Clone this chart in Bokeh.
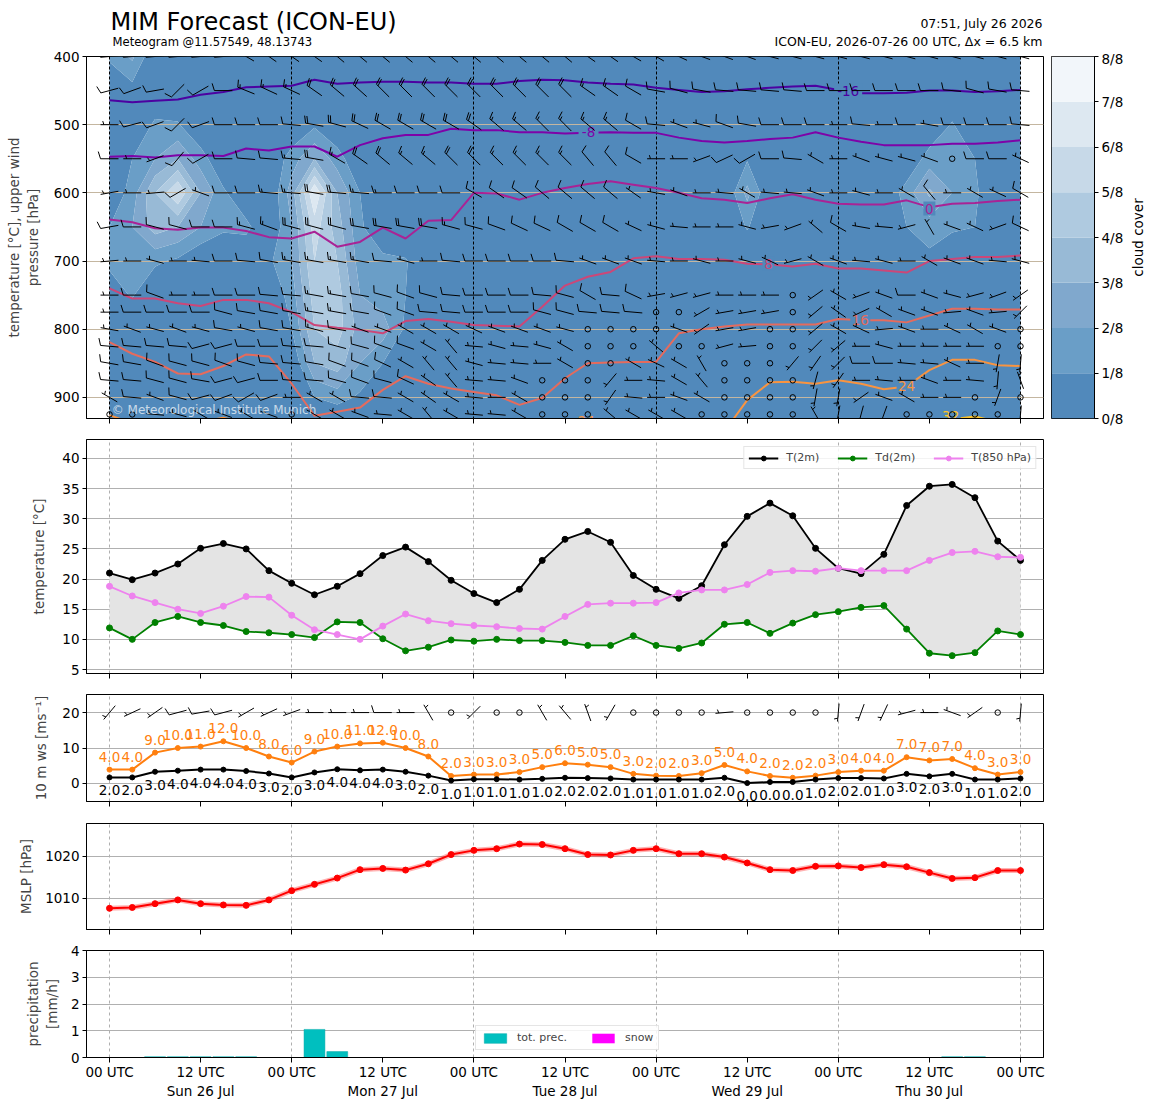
import math
import numpy as np
from bokeh.plotting import figure
from bokeh.layouts import column, row
from bokeh.models import Range1d, FixedTicker, Legend, LegendItem
from bokeh.core.properties import value
from bokeh.embed import file_html
from bokeh.resources import INLINE

FONT = "DejaVu Sans"
TFS = "13.5px"

# ---------------- data ----------------
hours = list(range(0, 121, 3))          # forecast hours from 2026-07-26 00 UTC
tick_hours = list(range(0, 121, 12))
day_hours = list(range(0, 121, 24))
day_names = ["Sun 26 Jul", "Mon 27 Jul", "Tue 28 Jul", "Wed 29 Jul", "Thu 30 Jul"]

t2m = [21.0, 19.9, 21.0, 22.5, 25.1, 25.9, 25.0, 21.4, 19.3, 17.4, 18.8, 20.9, 23.9, 25.3, 22.9, 19.8, 17.6, 16.1, 18.3, 23.1, 26.6,
       27.9, 26.1, 20.6, 18.3, 16.8, 18.9, 25.7, 30.4, 32.6, 30.5, 25.1, 21.8, 20.9, 24.1, 32.2, 35.4, 35.7, 33.5, 26.3, 23.1]
td2m = [11.9, 10.0, 12.8, 13.8, 12.8, 12.3, 11.3, 11.1, 10.8, 10.3, 12.9, 12.8, 10.1, 8.1, 8.7, 9.9, 9.7, 10.0, 9.8, 9.8, 9.5,
        9.0, 9.0, 10.6, 9.0, 8.5, 9.4, 12.5, 12.8, 11.0, 12.7, 14.1, 14.6, 15.3, 15.6, 11.7, 7.7, 7.3, 7.8, 11.4, 10.8]
t850 = [18.8, 17.2, 16.1, 15.0, 14.3, 15.5, 17.1, 17.0, 14.0, 11.6, 10.8, 10.0, 12.2, 14.2, 13.1, 12.6, 12.3, 12.1, 11.8, 11.7, 13.8,
        15.8, 16.0, 16.0, 16.1, 17.7, 18.2, 18.2, 19.1, 21.1, 21.4, 21.3, 21.8, 21.4, 21.4, 21.4, 23.1, 24.4, 24.6, 23.7, 23.6]

ws10 = [1.7, 1.7, 3.3, 3.6, 3.9, 3.9, 3.5, 2.8, 1.7, 3.1, 4.0, 3.7, 3.9, 3.3, 2.2, 0.8, 1.2, 1.2, 1.1, 1.3, 1.6,
        1.5, 1.4, 1.1, 1.1, 1.1, 1.1, 1.6, 0.1, 0.4, 0.4, 1.1, 1.5, 1.5, 1.4, 2.7, 2.0, 2.7, 1.1, 1.1, 1.4]
ws10_labels = [2, 2, 3, 4, 4, 4, 4, 3, 2, 3, 4, 4, 4, 3, 2, 1, 1, 1, 1, 1, 2,
               2, 2, 1, 1, 1, 1, 2, 0, 0, 0, 1, 2, 2, 1, 3, 2, 3, 1, 1, 2]
gust = [3.9, 3.9, 8.7, 10.0, 10.4, 11.9, 10.0, 7.6, 5.9, 9.0, 10.4, 11.3, 11.5, 10.0, 7.6, 2.1, 2.5, 2.5, 3.2, 4.6, 5.7,
        5.3, 4.6, 2.7, 2.2, 2.1, 2.9, 5.2, 3.4, 2.1, 1.6, 2.2, 3.2, 3.6, 3.6, 7.4, 6.5, 6.9, 4.3, 2.5, 3.2]
gust_labels = [4, 4, 9, 10, 11, 12, 10, 8, 6, 9, 10, 11, 12, 10, 8, 2, 3, 3, 3, 5, 6,
               5, 5, 3, 2, 2, 3, 5, 4, 2, 2, 2, 3, 4, 4, 7, 7, 7, 4, 3, 3]
dir10 = [220, 245, 235, 255, 260, 255, 240, 245, 250, 270, 270, 270, 270, 270, 330, 0, 225, 0, 0, 330,
         320, 340, 210, 0, 0, 0, 0, 265, 0, 0, 0, 0, 185, 200, 205, 255, 270, 290, 235, 0, 185]
spd10 = [5, 5, 5, 10, 10, 10, 5, 5, 5, 5, 5, 5, 10, 5, 5, 0, 5, 0, 0, 5,
         5, 5, 5, 0, 0, 0, 0, 5, 0, 0, 0, 0, 5, 5, 5, 5, 5, 5, 5, 0, 5]

mslp = [1007.6, 1007.8, 1008.7, 1009.6, 1008.7, 1008.4, 1008.3, 1009.6, 1011.8, 1013.3, 1014.8, 1016.8, 1017.1, 1016.7,
        1018.2, 1020.4, 1021.4, 1021.8, 1022.9, 1022.8, 1021.8, 1020.4, 1020.3, 1021.4, 1021.8, 1020.6, 1020.6, 1019.8,
        1018.4, 1016.8, 1016.6, 1017.6, 1017.7, 1017.3, 1018.0, 1017.5, 1016.1, 1014.7, 1014.9, 1016.6, 1016.6]

precip = [0, 0, 0.03, 0.03, 0.03, 0.03, 0.03, 0, 0, 1.05, 0.22, 0, 0, 0, 0, 0, 0, 0, 0, 0, 0,
          0, 0, 0, 0, 0, 0, 0, 0, 0, 0, 0, 0, 0, 0, 0, 0, 0.03, 0.03, 0, 0]
snow = [0] * 41

# isotherm pressures [hPa] per time step
iso_levels = [-16, -8, 0, 8, 16, 24, 32]
iso_colors = ["#4c02a1", "#7e03a8", "#a92395", "#cc4778", "#e56b5d", "#f89441", "#fdc328"]
iso_m16 = [464, 467, 465, 463, 456, 452, 445, 444, 443, 434, 440, 438, 437, 437, 438, 438, 440, 440, 436, 434, 435,
           438, 440, 441, 446, 449, 452, 451, 448, 446, 444, 443, 449, 454, 454, 453, 450, 450, 452, 451, 449]
iso_m8 = [547, 546, 548, 545, 545, 546, 535, 538, 532, 532, 547, 530, 520, 515, 515, 506, 508, 508, 511, 511, 513,
          512, 511, 512, 512, 519, 524, 526, 524, 521, 519, 511, 519, 525, 530, 530, 530, 528, 528, 526, 523]
iso_0 = [639, 643, 652, 654, 651, 651, 656, 665, 667, 657, 679, 672, 651, 667, 641, 640, 600, 601, 610, 600, 593,
         587, 583, 588, 593, 600, 608, 610, 615, 608, 602, 610, 616, 617, 617, 611, 621, 616, 615, 612, 610]
iso_8 = [740, 755, 755, 762, 766, 757, 757, 762, 775, 794, 798, 801, 806, 788, 785, 789, 794, 795, 796, 767, 736,
         723, 716, 696, 693, 697, 697, 698, 704, 705, 708, 704, 711, 711, 714, 717, 700, 697, 694, 694, 692]
iso_16 = [819, 836, 848, 865, 866, 854, 837, 840, 880, 927, 921, 915, 889, 869, 880, 887, 892, 897, 911, 901, 872,
          850, 849, 848, 848, 806, 800, 796, 793, 793, 793, 793, 785, 787, 787, 790, 780, 770, 770, 771, 771]
iso_24 = [926, 938, 945, 942, 936, 930, 938, 945, 950, 955, 960, 960, 958, 955, 952, 950, 948, 946, 944, 940, 937,
          935, 940, 945, 948, 950, 950, 950, 904, 878, 877, 880, 875, 880, 888, 884, 860, 845, 845, 853, 854]
iso_32 = [960, 960, 960, 960, 960, 960, 960, 960, 960, 960, 960, 960, 960, 960, 960, 960, 960, 960, 960, 960, 960,
          960, 960, 960, 960, 960, 960, 960, 960, 960, 960, 960, 960, 960, 960, 960, 945, 932, 928, 936, 945]
iso_lines = [iso_m16, iso_m8, iso_0, iso_8, iso_16, iso_24, iso_32]
iso_label_text = ["-16", "-8", "0", "8", "16", "24", "32", "24"]
iso_label_hour = [97.3, 63.1, 108.0, 86.8, 98.9, 105.0, 110.8, 62.8]
iso_label_p = [450, 511, 623, 704, 787, 884, 928, 934]
iso_label_color = ["#4c02a1", "#7e03a8", "#a92395", "#cc4778", "#e56b5d", "#f89441", "#fdc328", "#f89441"]

# cloud cover [octas] on pressure levels (sparse: time index -> value)
cc_levels = [400, 450, 500, 550, 600, 650, 700, 750, 800, 850, 900, 931]
cc_400 = {0: 1.2, 1: 2.2}
cc_450 = {1: 0.6}
cc_500 = {2: 1.2, 3: 1.1, 9: 0.8, 37: 1.1}
cc_550 = {1: 1.0, 2: 2.0, 3: 3.0, 4: 1.5, 8: 1.5, 9: 3.0, 10: 1.5, 28: 0.9, 36: 1.5, 37: 1.6, 38: 1.0}
cc_600 = {1: 1.5, 2: 4.0, 3: 6.0, 4: 3.0, 5: 1.2, 8: 2.5, 9: 7.0, 10: 3.0, 11: 1.0, 28: 2.3, 35: 1.5, 36: 3.2, 37: 2.0, 38: 1.2}
cc_650 = {0: 1.0, 1: 2.0, 2: 3.5, 3: 3.0, 4: 2.0, 5: 1.2, 6: 1.3, 8: 2.0, 9: 5.5, 10: 3.5, 11: 1.2, 28: 1.1, 35: 1.0, 36: 1.5, 37: 1.2, 38: 1.0}
cc_700 = {0: 1.2, 1: 1.5, 2: 1.2, 3: 0.8, 7: 0.8, 8: 2.0, 9: 5.0, 10: 4.0, 11: 1.5, 12: 1.3, 13: 1.1, 36: 0.7}
cc_750 = {0: 0.5, 1: 1.1, 8: 1.5, 9: 4.5, 10: 4.5, 11: 2.0, 12: 1.5, 13: 1.0}
cc_800 = {8: 1.0, 9: 4.0, 10: 4.5, 11: 2.5, 12: 2.5, 13: 0.8}
cc_850 = {9: 3.0, 10: 3.5, 11: 2.0, 12: 1.0}
cc_900 = {9: 1.0, 10: 1.5, 11: 0.8}
cc_931 = {}
cc_rows = [cc_400, cc_450, cc_500, cc_550, cc_600, cc_650, cc_700, cc_750, cc_800, cc_850, cc_900, cc_931]
cc_colors = ["#5189bb", "#6a9ec7", "#80a8cd", "#98bad6", "#afcae0", "#c7d9e8", "#dde8f1", "#f2f6fa"]
cc_ticks = [0, 1, 2, 3, 4, 5, 6, 7, 8]

# upper winds: direction [deg] and speed [kt] per level
barb_levels = [400, 450, 500, 550, 600, 650, 700, 750, 775, 800, 825, 850, 875, 900, 925]
dir_400 = [265, 265, 265, 265, 265, 265, 300, 305, 305, 305, 310, 310, 310, 310, 310, 310, 310, 310, 310, 310, 310,
           305, 305, 300, 300, 295, 290, 290, 290, 285, 285, 285, 285, 285, 285, 285, 285, 285, 285, 285, 285]
spd_400 = [10, 10, 10, 10, 10, 10, 15, 15, 15, 20, 20, 20, 20, 20, 20, 20, 20, 20, 20, 20, 20,
           15, 15, 15, 10, 10, 10, 10, 10, 10, 10, 10, 10, 10, 10, 10, 10, 10, 10, 10, 10]
dir_450 = [255, 250, 260, 225, 240, 270, 292, 295, 295, 305, 310, 312, 315, 315, 315, 315, 315, 315, 315, 315, 315,
           305, 305, 300, 280, 285, 280, 275, 275, 275, 275, 270, 270, 270, 270, 270, 270, 275, 285, 280, 275]
spd_450 = [10, 10, 10, 10, 10, 10, 15, 15, 15, 20, 20, 20, 20, 20, 20, 20, 20, 20, 20, 20, 20,
           15, 15, 10, 10, 10, 10, 10, 10, 10, 10, 10, 10, 10, 10, 10, 10, 10, 10, 10, 10]
dir_500 = [270, 255, 250, 225, 250, 270, 270, 270, 275, 280, 285, 295, 300, 300, 300, 300, 305, 310, 310, 315, 315,
           310, 310, 300, 275, 290, 285, 290, 280, 270, 270, 270, 270, 275, 270, 270, 280, 270, 270, 270, 275]
spd_500 = [5, 10, 10, 10, 10, 10, 10, 10, 10, 20, 20, 20, 20, 20, 20, 20, 20, 15, 15, 15, 15,
           15, 15, 10, 10, 5, 5, 10, 10, 10, 10, 10, 5, 10, 5, 10, 5, 10, 10, 10, 10]
dir_550 = [270, 270, 250, 220, 240, 270, 275, 275, 275, 280, 300, 305, 310, 310, 310, 315, 315, 315, 315, 315, 315,
           320, 320, 300, 270, 270, 250, 245, 240, 270, 275, 300, 270, 290, 285, 285, 290, 0, 270, 270, 295]
spd_550 = [10, 5, 5, 10, 10, 10, 10, 10, 15, 20, 15, 20, 20, 15, 15, 20, 20, 15, 15, 15, 15,
           10, 10, 10, 5, 5, 5, 10, 10, 10, 10, 5, 5, 5, 5, 5, 5, 0, 10, 10, 5]
dir_600 = [260, 270, 265, 240, 290, 270, 270, 275, 275, 280, 275, 275, 270, 270, 270, 270, 300, 305, 305, 310, 310,
           310, 310, 305, 280, 290, 270, 275, 300, 275, 275, 290, 270, 285, 270, 300, 320, 270, 300, 295, 300]
spd_600 = [5, 5, 5, 10, 5, 10, 10, 15, 15, 20, 20, 15, 15, 10, 10, 10, 10, 10, 10, 10, 10,
           10, 10, 5, 5, 5, 5, 5, 5, 5, 5, 5, 5, 5, 5, 5, 10, 5, 5, 5, 10]
dir_650 = [260, 270, 285, 285, 270, 270, 285, 290, 285, 285, 285, 280, 280, 280, 280, 285, 285, 290, 295, 295, 300,
           300, 300, 295, 285, 275, 270, 270, 285, 260, 250, 310, 300, 280, 275, 255, 330, 290, 295, 250, 295]
spd_650 = [10, 10, 10, 10, 10, 10, 15, 15, 20, 20, 20, 20, 20, 20, 20, 15, 10, 10, 10, 10, 10,
           10, 10, 5, 5, 5, 5, 5, 5, 5, 5, 5, 10, 5, 5, 5, 5, 5, 5, 5, 10]
dir_700 = [265, 270, 285, 270, 275, 270, 275, 280, 280, 280, 280, 280, 275, 285, 270, 275, 270, 270, 270, 270, 275,
           290, 290, 290, 275, 270, 285, 270, 285, 295, 255, 300, 290, 275, 285, 270, 300, 290, 290, 275, 285]
spd_700 = [5, 5, 5, 5, 5, 10, 10, 10, 15, 15, 15, 15, 10, 5, 5, 10, 10, 10, 10, 10, 10,
           5, 5, 5, 5, 5, 5, 5, 5, 5, 5, 5, 5, 5, 5, 5, 5, 5, 5, 5, 5]
dir_750 = [270, 270, 290, 270, 270, 270, 270, 275, 275, 280, 280, 280, 285, 290, 285, 275, 270, 270, 270, 275, 285,
           300, 275, 295, 260, 255, 255, 270, 270, 270, 0, 235, 300, 250, 290, 270, 290, 285, 255, 250, 235]
spd_750 = [5, 10, 10, 5, 5, 10, 10, 10, 10, 15, 15, 10, 10, 10, 10, 10, 10, 10, 10, 10, 10,
           10, 10, 10, 5, 5, 5, 5, 5, 5, 0, 5, 5, 5, 5, 10, 5, 5, 5, 5, 5]
dir_775 = [270, 270, 270, 270, 270, 285, 280, 280, 280, 280, 280, 280, 290, 290, 275, 275, 270, 270, 270, 285, 285,
           275, 275, 275, 0, 0, 240, 260, 260, 260, 0, 230, 305, 245, 300, 290, 290, 265, 290, 265, 225]
spd_775 = [5, 10, 10, 10, 10, 10, 10, 10, 10, 15, 15, 10, 10, 10, 10, 10, 10, 10, 10, 10, 10,
           10, 10, 10, 0, 0, 5, 5, 5, 5, 0, 5, 5, 5, 5, 5, 5, 5, 5, 5, 5]
dir_800 = [280, 290, 285, 290, 285, 280, 285, 280, 280, 285, 280, 290, 290, 300, 300, 300, 295, 290, 290, 290, 285,
           0, 0, 0, 0, 290, 235, 260, 260, 0, 0, 230, 300, 295, 265, 290, 270, 295, 300, 290, 0]
spd_800 = [5, 5, 5, 5, 5, 10, 5, 10, 10, 15, 10, 5, 5, 5, 5, 5, 5, 5, 5, 5, 5,
           0, 0, 0, 0, 5, 5, 5, 5, 0, 0, 5, 5, 5, 5, 5, 5, 5, 5, 5, 0]
dir_825 = [275, 275, 275, 275, 255, 255, 270, 270, 275, 275, 285, 285, 290, 290, 300, 320, 275, 285, 275, 285, 300,
           0, 0, 0, 310, 0, 0, 255, 265, 0, 0, 225, 230, 270, 285, 270, 270, 270, 270, 0, 0]
spd_825 = [10, 10, 10, 10, 10, 10, 10, 10, 10, 10, 10, 10, 10, 10, 5, 5, 5, 5, 5, 5, 5,
           0, 0, 0, 5, 0, 0, 5, 5, 0, 0, 5, 5, 5, 5, 5, 5, 5, 5, 0, 0]
dir_850 = [280, 280, 290, 285, 285, 290, 285, 275, 275, 280, 290, 290, 295, 300, 320, 320, 285, 275, 275, 270, 300,
           0, 0, 300, 295, 300, 330, 0, 0, 0, 220, 215, 225, 270, 270, 275, 275, 295, 270, 190, 185]
spd_850 = [10, 10, 10, 10, 10, 10, 10, 10, 10, 10, 10, 10, 10, 5, 5, 5, 5, 5, 5, 5, 5,
           0, 0, 5, 5, 5, 5, 0, 0, 0, 5, 5, 5, 10, 10, 5, 5, 5, 5, 5, 5]
dir_875 = [275, 275, 285, 285, 280, 255, 255, 270, 275, 275, 285, 290, 285, 295, 305, 320, 275, 275, 290, 0, 0,
           0, 220, 270, 275, 300, 320, 0, 0, 0, 0, 195, 215, 270, 275, 270, 290, 270, 275, 185, 340]
spd_875 = [10, 10, 10, 10, 10, 10, 10, 10, 10, 10, 10, 10, 10, 10, 5, 5, 5, 5, 5, 0, 0,
           0, 5, 5, 5, 5, 5, 0, 0, 0, 0, 5, 5, 5, 5, 5, 5, 5, 5, 5, 5]
dir_900 = [300, 275, 290, 285, 255, 250, 240, 250, 270, 300, 300, 275, 275, 300, 305, 300, 275, 270, 300, 0, 0,
           0, 215, 275, 270, 290, 300, 0, 0, 0, 0, 190, 190, 235, 290, 300, 270, 270, 0, 200, 0]
spd_900 = [5, 10, 5, 10, 10, 10, 10, 10, 5, 5, 5, 10, 10, 5, 5, 5, 5, 5, 5, 0, 0,
           0, 5, 5, 5, 5, 5, 0, 0, 0, 0, 5, 5, 5, 5, 5, 5, 5, 0, 5, 0]
dir_925 = [0, 0, 275, 285, 300, 290, 300, 290, 0, 300, 300, 290, 275, 300, 320, 300, 275, 275, 300, 0, 0,
           0, 310, 300, 300, 300, 0, 0, 0, 0, 0, 330, 190, 195, 200, 0, 0, 0, 0, 0, 185]
spd_925 = [0, 0, 5, 5, 5, 5, 5, 5, 0, 5, 5, 5, 5, 5, 5, 5, 5, 5, 5, 0, 0,
           0, 5, 5, 5, 5, 0, 0, 0, 0, 0, 5, 5, 5, 5, 0, 0, 0, 0, 0, 5]
barb_dirs = [dir_400, dir_450, dir_500, dir_550, dir_600, dir_650, dir_700, dir_750, dir_775, dir_800, dir_825,
             dir_850, dir_875, dir_900, dir_925]
barb_spds = [spd_400, spd_450, spd_500, spd_550, spd_600, spd_650, spd_700, spd_750, spd_775, spd_800, spd_825,
             spd_850, spd_875, spd_900, spd_925]

# ---------------- layout constants ----------------
FW = 957
LB = 86           # left border incl. page offset
X0, X1 = -3.03, 123.03
P_TOP, P_BOT = 400.0, 931.0
H0, H1, H2, H3, H4, H5 = 50, 362, 234, 107, 106, 107
T_LO, T_HI = 4.34, 43.15
W_LO, W_HI = -5.1, 25.1
M_LO, M_HI = 1002.55, 1027.8
XR = Range1d(X0, X1)
BARB_L = 18.0


def barb_geometry(xs0, ys0, dirs, spds, kx, ky, L=BARB_L):
    """Matplotlib-style wind barbs (pivot middle); kx, ky = data units per screen px."""
    sx, sy, cx, cy = [], [], [], []
    sp, bh, fw = 0.125 * L, 0.4 * L, 0.25 * L
    for x0, y0, d, s in zip(xs0, ys0, dirs, spds):
        n5 = int(round(s / 5.0))
        if n5 == 0:
            cx.append(x0)
            cy.append(y0)
            continue
        th = math.radians(d)
        ux, uy = math.sin(th), math.cos(th)
        bx, by = uy, -ux

        def P(a, b):
            return (x0 + (a * ux + b * bx) * kx, y0 + (a * uy + b * by) * ky)

        a0, a1 = P(-L / 2, 0), P(L / 2, 0)
        sx.append([a0[0], a1[0]])
        sy.append([a0[1], a1[1]])
        nfull, half = divmod(n5, 2)
        off = L
        for _ in range(nfull):
            b0, b1 = P(-L / 2 + off, 0), P(-L / 2 + off + fw / 2, bh)
            sx.append([b0[0], b1[0]])
            sy.append([b0[1], b1[1]])
            off -= sp
        if half:
            if nfull == 0:
                off -= 1.5 * sp
            b0, b1 = P(-L / 2 + off, 0), P(-L / 2 + off + fw / 4, bh / 2)
            sx.append([b0[0], b1[0]])
            sy.append([b0[1], b1[1]])
    return sx, sy, cx, cy


def make_fig(fh, yr, top=0, bottom=21, xlabels=False, vcolor="#9a9a9a", vdash="3 3", ylabel="", yticks=None,
             label_standoff=11):
    p = figure(frame_width=FW, frame_height=fh, x_range=XR, y_range=yr, output_backend="svg",
               toolbar_location=None, min_border_left=LB, min_border_right=8, min_border_top=top,
               min_border_bottom=bottom, background_fill_color="white", border_fill_color="white")
    p.outline_line_color = "black"
    p.outline_line_width = 1
    for ax in p.axis:
        ax.major_label_text_font = FONT
        ax.major_label_text_font_size = TFS
        ax.major_label_text_color = "black"
        ax.axis_label_text_font = FONT
        ax.axis_label_text_font_style = "normal"
        ax.axis_label_text_font_size = TFS
        ax.minor_tick_line_color = None
        ax.major_tick_in = 0
        ax.axis_line_color = "black"
        ax.major_tick_line_color = "black"
    p.xaxis.ticker = FixedTicker(ticks=tick_hours)
    p.xaxis.major_tick_out = 5
    if xlabels:
        p.xaxis.major_label_standoff = 1
        ov = {}
        for t in tick_hours:
            ov[t] = "00 UTC" if t % 24 == 0 else "12 UTC\n" + day_names[t // 24]
        p.xaxis.major_label_overrides = ov
    else:
        p.xaxis.major_label_text_font_size = "0px"
        p.xaxis.major_label_text_color = None
        p.xaxis.major_label_standoff = 0
    p.yaxis.ticker = FixedTicker(ticks=yticks)
    p.yaxis.major_tick_out = 4
    p.yaxis.major_label_standoff = 3
    p.yaxis.axis_label = ylabel
    p.yaxis.axis_label_standoff = label_standoff
    p.ygrid.grid_line_color = "#b0b0b0"
    p.ygrid.grid_line_width = 1
    p.xgrid.ticker = FixedTicker(ticks=day_hours)
    p.xgrid.grid_line_color = vcolor
    p.xgrid.grid_line_dash = vdash
    p.xgrid.grid_line_width = 0.8
    return p


# ---------------- title area (coordinates = page pixels) ----------------
p0 = figure(frame_width=FW, frame_height=H0, x_range=Range1d(LB, LB + FW), y_range=Range1d(H0, 0),
            output_backend="svg", toolbar_location=None, min_border_left=LB, min_border_right=8,
            min_border_top=0, min_border_bottom=0, x_axis_location=None, y_axis_location=None)
p0.outline_line_color = None
p0.xgrid.visible = False
p0.ygrid.visible = False
p0.text(x=[110], y=[21], text=["MIM Forecast (ICON-EU)"], text_font=value(FONT), text_font_size="24px",
        text_baseline="middle", text_align="left", text_color="black")
p0.text(x=[112], y=[41.5], text=["Meteogram @11.57549, 48.13743"], text_font=value(FONT), text_font_size="11.6px",
        text_baseline="middle", text_align="left", text_color="black")
p0.text(x=[1042], y=[23], text=["07:51, July 26 2026"], text_font=value(FONT), text_font_size="12.5px",
        text_baseline="middle", text_align="right", text_color="black")
p0.text(x=[1042], y=[41], text=["ICON-EU, 2026-07-26 00 UTC, \u0394x = 6.5 km"], text_font=value(FONT),
        text_font_size="12.5px", text_baseline="middle", text_align="right", text_color="black")

# ---------------- panel 1: upper air ----------------
p1 = make_fig(H1, Range1d(P_BOT, P_TOP), top=6, vcolor="black", vdash="3 2",
              ylabel="temperature [\u00b0C], upper wind\npressure [hPa]", yticks=[400, 500, 600, 700, 800, 900],
              label_standoff=10)
p1.ygrid.grid_line_color = "#c4b6a0"
p1.xgrid.grid_line_width = 1

z = np.array([[r.get(i, 0.0) for i in range(len(hours))] for r in cc_rows])
cr = p1.contour(x=np.array(hours, dtype=float), y=np.array(cc_levels, dtype=float), z=z,
                levels=[-1, 1, 2, 3, 4, 5, 6, 7, 8.5], fill_color=cc_colors)
cr.level = "image"
try:
    cr.line_renderer.visible = False
except Exception:
    pass

for pl, col in zip(iso_lines, iso_colors):
    p1.line(hours, pl, line_color=col, line_width=2)

p1.rect(x=iso_label_hour, y=iso_label_p, width=[8 * len(t) + 4 for t in iso_label_text], height=14,
        width_units="screen", height_units="screen", fill_color=cc_colors[0], line_color=None)
p1.text(x=iso_label_hour, y=iso_label_p, text=iso_label_text, text_color=iso_label_color, text_font=value(FONT),
        text_font_size="13.5px", text_align="center", text_baseline="middle")

kx1 = (X1 - X0) / FW
ky1 = -(P_BOT - P_TOP) / H1
bx_all, by_all, cx_all, cy_all = [], [], [], []
for lev, dd, ss in zip(barb_levels, barb_dirs, barb_spds):
    sx, sy, cx, cy = barb_geometry(hours, [lev] * len(hours), dd, ss, kx1, ky1)
    bx_all += sx
    by_all += sy
    cx_all += cx
    cy_all += cy
p1.multi_line(bx_all, by_all, line_color="black", line_width=1)
p1.scatter(cx_all, cy_all, marker="circle", size=5.5, fill_color=None, line_color="black", line_width=1)

p1.text(x=[0.3], y=[919], text=["\u00a9 Meteorological Institute Munich"], text_color="white", text_alpha=0.7,
        text_font=value(FONT), text_font_size="12px", text_baseline="middle", text_align="left")

# colorbar
pcb = figure(frame_width=43, frame_height=H1, x_range=Range1d(0, 1), y_range=Range1d(0, 8), output_backend="svg",
             toolbar_location=None, min_border_left=0, min_border_right=36, min_border_top=6, min_border_bottom=21,
             x_axis_location=None, y_axis_location="right")
pcb.outline_line_color = "black"
pcb.xgrid.visible = False
pcb.ygrid.visible = False
pcb.quad(left=0, right=1, bottom=cc_ticks[:-1], top=cc_ticks[1:], fill_color=cc_colors, line_color=None)
pcb.yaxis.ticker = FixedTicker(ticks=cc_ticks)
pcb.yaxis.major_label_overrides = {k: f"{k}/8" for k in cc_ticks}
pcb.yaxis.major_label_text_font = FONT
pcb.yaxis.major_label_text_font_size = TFS
pcb.yaxis.major_label_text_color = "black"
pcb.yaxis.minor_tick_line_color = None
pcb.yaxis.major_tick_in = 0
pcb.yaxis.major_tick_out = 4
pcb.yaxis.major_label_standoff = 3

# colorbar title (rotated, reading bottom-to-top)
pct = figure(frame_width=17, frame_height=H1, x_range=Range1d(0, 1), y_range=Range1d(0, 1), output_backend="svg",
             toolbar_location=None, min_border_left=0, min_border_right=0, min_border_top=6, min_border_bottom=21,
             x_axis_location=None, y_axis_location=None)
pct.outline_line_color = None
pct.xgrid.visible = False
pct.ygrid.visible = False
pct.text(x=[0.45], y=[0.5], text=["cloud cover"], angle=math.pi / 2, text_font=value(FONT), text_font_size=TFS,
         text_align="center", text_baseline="middle", text_color="black")

# ---------------- panel 2: temperature ----------------
p2 = make_fig(H2, Range1d(T_LO, T_HI), ylabel="temperature [\u00b0C]", yticks=[5, 10, 15, 20, 25, 30, 35, 40],
              label_standoff=12)
p2.varea(x=hours, y1=td2m, y2=t2m, fill_color="#e4e4e4")
r1 = p2.line(hours, t2m, line_color="black", line_width=1.8)
s1 = p2.scatter(hours, t2m, size=6, color="black")
r2 = p2.line(hours, td2m, line_color="green", line_width=1.8)
s2 = p2.scatter(hours, td2m, size=6, color="green")
r3 = p2.line(hours, t850, line_color="violet", line_width=1.8)
s3 = p2.scatter(hours, t850, size=6, color="violet")
leg2 = Legend(items=[LegendItem(label="T(2m)", renderers=[r1, s1]),
                     LegendItem(label="Td(2m)", renderers=[r2, s2]),
                     LegendItem(label="T(850 hPa)", renderers=[r3, s3])],
              orientation="horizontal", location="top_right", margin=7, padding=4, spacing=18,
              label_text_font=FONT, label_text_font_size="11px", glyph_width=30, glyph_height=12,
              label_standoff=8, border_line_color="#cccccc", background_fill_alpha=0.85)
p2.add_layout(leg2)

# ---------------- panel 3: 10 m wind ----------------
p3 = make_fig(H3, Range1d(W_LO, W_HI), bottom=22, ylabel="10 m ws [ms\u207b\u00b9]", yticks=[0, 10, 20],
              label_standoff=10)
p3.line(hours, gust, line_color="#ff7f0e", line_width=2)
p3.scatter(hours, gust, size=5, color="#ff7f0e")
p3.line(hours, ws10, line_color="black", line_width=2)
p3.scatter(hours, ws10, size=5, color="black")
p3.text(x=hours, y=gust, text=[f"{v:.1f}" for v in gust_labels], text_color="#ff7f0e", text_font=value(FONT),
        text_font_size="13.5px", text_align="center", text_baseline="middle", y_offset=-13)
p3.text(x=hours, y=ws10, text=[f"{v:.1f}" for v in ws10_labels], text_color="black", text_font=value(FONT),
        text_font_size="13.5px", text_align="center", text_baseline="middle", y_offset=13)
kx3 = (X1 - X0) / FW
ky3 = (W_HI - W_LO) / H3
sx3, sy3, cx3, cy3 = barb_geometry(hours, [20] * len(hours), dir10, spd10, kx3, ky3)
p3.multi_line(sx3, sy3, line_color="black", line_width=1)
p3.scatter(cx3, cy3, marker="circle", size=5.5, fill_color=None, line_color="black", line_width=1)

# ---------------- panel 4: MSLP ----------------
p4 = make_fig(H4, Range1d(M_LO, M_HI), bottom=13, ylabel="MSLP [hPa]", yticks=[1010, 1020], label_standoff=8)
p4.line(hours, mslp, line_color="red", line_width=5, line_alpha=0.3)
p4.line(hours, mslp, line_color="red", line_width=2)
p4.scatter(hours, mslp, size=6, color="red")

# ---------------- panel 5: precipitation ----------------
p5 = make_fig(H5, Range1d(0, 4), top=8, bottom=36, xlabels=True, ylabel="precipitation\n[mm/h]",
              yticks=[0, 1, 2, 3, 4], label_standoff=8)
rb1 = p5.vbar(x=hours, top=precip, width=2.75, fill_color="#00bfbf", line_color="#00a8a8", line_width=0.5)
rb2 = p5.vbar(x=hours, top=snow, width=2.75, fill_color="magenta", line_color=None)
leg5 = Legend(items=[LegendItem(label="tot. prec.", renderers=[rb1]), LegendItem(label="snow", renderers=[rb2])],
              orientation="horizontal", location=(389, 7), padding=5, spacing=22, label_text_font=FONT,
              label_text_font_size="11px", glyph_width=28, glyph_height=12, label_standoff=8,
              border_line_color="#cccccc", background_fill_alpha=0.85)
p5.add_layout(leg5)

layout = column(p0, row(p1, pcb, pct), p2, p3, p4, p5)
open("out.html", "w").write(file_html(layout, INLINE))
